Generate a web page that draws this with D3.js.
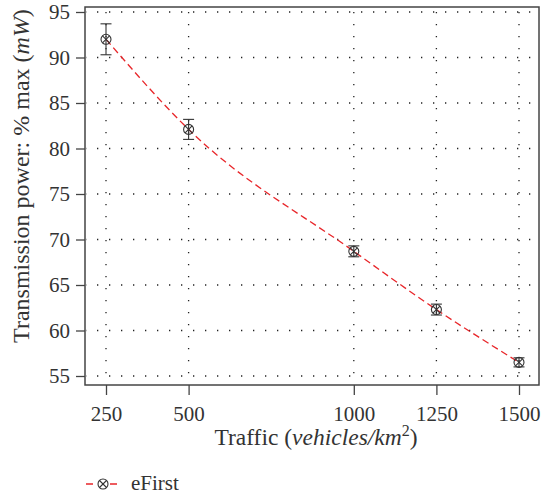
<!DOCTYPE html>
<html><head><meta charset="utf-8">
<script src="https://cdn.jsdelivr.net/npm/d3@7/dist/d3.min.js"></script>
<style>body{margin:0;background:#fff}svg{display:block}text{font-family:"Liberation Serif","DejaVu Serif",serif;fill:#333}</style>
</head><body><svg id="c" width="543" height="496"></svg>
<script>
const traffic = [250, 500, 1000, 1250, 1500];
const power = [92.0, 82.1, 68.7, 62.3, 56.5];
const errLow = [90.3, 81.0, 68.1, 61.7, 56.0];
const errHigh = [93.7, 83.2, 69.3, 62.9, 57.0];
const xTicks = [250, 500, 1000, 1250, 1500];
const yTicks = [55, 60, 65, 70, 75, 80, 85, 90, 95];
const seriesName = "eFirst";

const svg = d3.select("#c");
const L = 85, R = 539, T = 7, B = 385;
const x = d3.scaleLinear().domain([250, 1500]).range([106, 519]);
const y = d3.scaleLinear().domain([55, 95]).range([376, 12]);

// grid
const g = svg.append("g");
g.selectAll(".hg").data(yTicks).enter().append("line")
  .attr("x1", L + 1).attr("x2", R - 1).attr("y1", d => y(d)).attr("y2", d => y(d))
  .attr("stroke", "#222").attr("stroke-width", 1.3).attr("stroke-dasharray", "1.3,10.7").attr("stroke-dashoffset", -11);
g.selectAll(".vg").data(xTicks).enter().append("line")
  .attr("y1", T + 1).attr("y2", B - 1).attr("x1", d => x(d)).attr("x2", d => x(d))
  .attr("stroke", "#222").attr("stroke-width", 1.3).attr("stroke-dasharray", "1.3,10.7").attr("stroke-dashoffset", -4);

// line
const pts = traffic.map((t, i) => [x(t), y(power[i])]);
svg.append("path").attr("d", d3.line().curve(d3.curveMonotoneX)(pts))
  .attr("fill", "none").attr("stroke", "#e8262a").attr("stroke-width", 1.3).attr("stroke-dasharray", "7,4");

// error bars
const eb = svg.append("g").attr("stroke", "#333").attr("stroke-width", 1.1);
traffic.forEach((t, i) => {
  const cx = x(t);
  eb.append("line").attr("x1", cx).attr("x2", cx).attr("y1", y(errLow[i])).attr("y2", y(errHigh[i]));
  eb.append("line").attr("x1", cx - 5.5).attr("x2", cx + 5.5).attr("y1", y(errLow[i])).attr("y2", y(errLow[i]));
  eb.append("line").attr("x1", cx - 5.5).attr("x2", cx + 5.5).attr("y1", y(errHigh[i])).attr("y2", y(errHigh[i]));
});

function marker(sel, cx, cy) {
  const m = sel.append("g").attr("stroke", "#333").attr("stroke-width", 1.1).attr("fill", "none");
  m.append("circle").attr("cx", cx).attr("cy", cy).attr("r", 5);
  const k = 3.5;
  m.append("line").attr("x1", cx - k).attr("x2", cx + k).attr("y1", cy - k).attr("y2", cy + k);
  m.append("line").attr("x1", cx - k).attr("x2", cx + k).attr("y1", cy + k).attr("y2", cy - k);
}
pts.forEach(p => marker(svg, p[0], p[1]));

// frame
svg.append("rect").attr("x", L).attr("y", T).attr("width", R - L).attr("height", B - T)
  .attr("fill", "none").attr("stroke", "#444").attr("stroke-width", 1.5);

// axes
const xa = svg.append("g").attr("transform", `translate(0,${B})`)
  .call(d3.axisBottom(x).tickValues(xTicks).tickSize(10).tickPadding(11).tickFormat(d3.format("d")));
const ya = svg.append("g").attr("transform", `translate(${L},0)`)
  .call(d3.axisLeft(y).tickValues(yTicks).tickSize(9).tickPadding(6).tickFormat(d3.format("d")));
[xa, ya].forEach(a => {
  a.attr("font-family", null).attr("font-size", null);
  a.select(".domain").remove();
  a.selectAll("line").attr("stroke", "#444").attr("stroke-width", 1.3);
  a.selectAll("text").style("font-family", '"Liberation Serif",serif').style("font-size", "21px").attr("fill", "#333");
});

// labels
const xl = svg.append("text").attr("x", 316).attr("y", 445).attr("text-anchor", "middle").style("font-size", "23.5px");
xl.append("tspan").text("Traffic (");
xl.append("tspan").style("font-style", "italic").text("vehicles/km");
xl.append("tspan").attr("dy", -9).style("font-size", "16px").text("2");
xl.append("tspan").attr("dy", 9).text(")");

const yl = svg.append("text").attr("transform", `translate(29,176) rotate(-90)`).attr("text-anchor", "middle").style("font-size", "24px");
yl.append("tspan").text("Transmission power: % max (");
yl.append("tspan").style("font-style", "italic").text("mW");
yl.append("tspan").text(")");

// legend
svg.append("line").attr("x1", 86).attr("x2", 120).attr("y1", 484).attr("y2", 484)
  .attr("stroke", "#e8262a").attr("stroke-width", 1.3).attr("stroke-dasharray", "7,5");
svg.append("rect").attr("x", 97).attr("y", 478).attr("width", 12).attr("height", 12).attr("fill", "#fff");
marker(svg, 103, 484);
svg.append("text").attr("x", 131).attr("y", 490).style("font-size", "21px").text(seriesName);
</script></body></html>
